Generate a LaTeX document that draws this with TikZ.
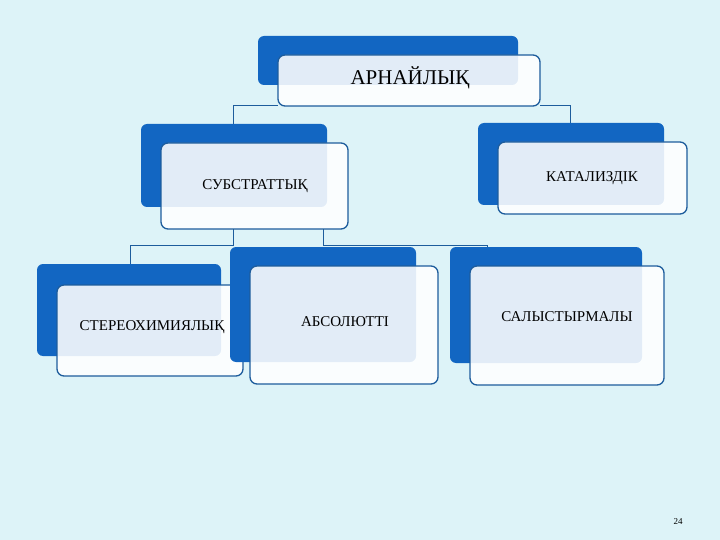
\documentclass[tikz,border=0pt]{standalone}
\usepackage{fontspec}
\setmainfont{Liberation Serif}
\definecolor{bg}{HTML}{DDF3F8}
\definecolor{bblue}{HTML}{1266C2}
\definecolor{edge}{HTML}{1D5C9C}
\begin{document}
\begin{tikzpicture}[x=1pt,y=-1pt,
  back/.style={fill=bblue,rounded corners=6pt},
  front/.style={draw=edge,line width=1.3pt,fill=white,fill opacity=0.88,rounded corners=7pt},
  lbl/.style={font=\fontsize{15}{17}\selectfont,text=black},
  conn/.style={draw=edge,line width=1pt}]
\fill[bg] (0,0) rectangle (720,540);
\useasboundingbox (0,0) rectangle (720,540);
% connectors
\coordinate (ta) at (233,106);
\coordinate (tb) at (570,106);
\draw[conn] (233,124) |- (278,106);
\draw[conn] (540,106) -| (570,123);
\draw[conn] (233,229) |- (130,245) -- (130,264);
\draw[conn] (323,229) -- (323,245) -- (487,245) -- (487,265);
% boxes
\fill[back] (258,36) rectangle (518,85);
\draw[front] (278,55) rectangle (540,106);
\node[font=\fontsize{21}{24}\selectfont] (top) at (410,78) {АРНАЙЛЫҚ};
\fill[back] (141,124) rectangle (327,207);
\draw[front] (161,143) rectangle (348,229);
\node[lbl] (sub) at (255,186) {СУБСТРАТТЫҚ};
\fill[back] (478,123) rectangle (664,205);
\draw[front] (498,142) rectangle (687,214);
\node[lbl] (kat) at (592,178) {КАТАЛИЗДІК};
\fill[back] (37,264) rectangle (221,356);
\draw[front] (57,285) rectangle (243,376);
\node[lbl] (st) at (152,327) {СТЕРЕОХИМИЯЛЫҚ};
\fill[back] (230,247) rectangle (416,362);
\draw[front] (250,266) rectangle (438,384);
\node[lbl] (abs) at (345,322) {АБСОЛЮТТІ};
\fill[back] (450,247) rectangle (642,363);
\draw[front] (470,266) rectangle (664,385);
\node[lbl] (sal) at (567,317) {САЛЫСТЫРМАЛЫ};
\node[font=\fontsize{9}{10}\selectfont] (pg) at (678,522) {24};
\end{tikzpicture}
\end{document}
